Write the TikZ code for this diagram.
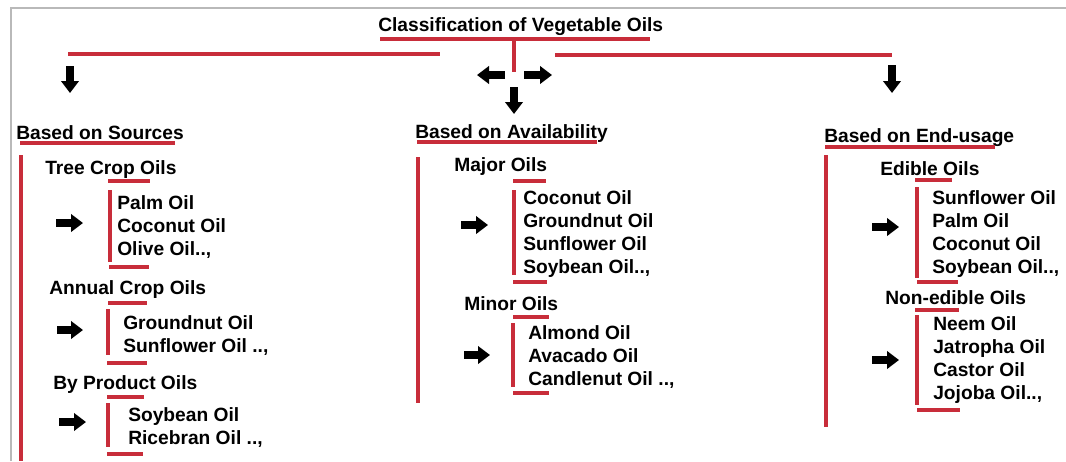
\documentclass[tikz,border=0pt]{standalone}
\usepackage{fontspec}
\setmainfont{Liberation Sans}
\usetikzlibrary{arrows.meta}
\definecolor{oilred}{RGB}{200,45,58}
\definecolor{framegray}{RGB}{185,185,185}
\tikzset{
  txt/.style={anchor=north west, inner sep=0pt, align=left,
    font=\fontsize{14.4}{17.25}\selectfont\bfseries},
  redline/.style={draw=oilred, line width=2.6pt},
  blockarrow/.style={line width=6pt, -{Triangle[length=9pt,width=13pt]}},
}
\begin{document}
\begin{tikzpicture}[x=0.75pt,y=-0.75pt]
\useasboundingbox (0,0) rectangle (1066,461);
% frame
\draw[framegray, line width=1.2pt] (11,461) -- (11,8) -- (1066,8);

% title and main branches
\node[txt] (title) at (378,17) {Classification of Vegetable Oils};
\draw[redline] (380,39) -- (650,39);
\draw[redline] (514,39) -- (514,72);
\draw[redline] (68,54) -- (440,54);
\draw[redline] (555,55) -- (892,55);

\coordinate (L1) at (70,66);   \coordinate (L2) at (70,93);
\coordinate (M0) at (505,75);  \coordinate (M1) at (477,75);
\coordinate (M2) at (524,75);  \coordinate (M3) at (552,75);
\coordinate (M4) at (514,87);  \coordinate (M5) at (514,114);
\coordinate (R1) at (892,65);  \coordinate (R2) at (892,93);
\draw[blockarrow] (L1) -- (L2);
\draw[blockarrow] (M0) -- (M1);
\draw[blockarrow] (M2) -- (M3);
\draw[blockarrow] (M4) -- (M5);
\draw[blockarrow] (R1) -- (R2);

% based on sources
\node[txt] (src) at (16,125) {Based on Sources};
\draw[redline] (20,143) -- (175,143);
\draw[redline] (21,155) -- (21,461);

\node[txt] (tree) at (45,160) {Tree Crop Oils};
\draw[redline] (108,181) -- (150,181);
\draw[redline] (110,190) -- (110,262);
\draw[redline] (109,267) -- (149,267);
\node[txt] (treelist) at (117,195) {Palm Oil\\Coconut Oil\\Olive Oil..,};
\coordinate (t1) at (56,223); \coordinate (t2) at (83,223);
\draw[blockarrow] (t1) -- (t2);

\node[txt] (annual) at (49,280) {Annual Crop Oils};
\draw[redline] (108,303) -- (147,303);
\draw[redline] (108,309) -- (108,355);
\draw[redline] (107,363) -- (147,363);
\node[txt] (annuallist) at (123,315) {Groundnut Oil\\Sunflower Oil ..,};
\coordinate (a1) at (57,330); \coordinate (a2) at (83,330);
\draw[blockarrow] (a1) -- (a2);

\node[txt] (byprod) at (53,375) {By Product Oils};
\draw[redline] (107,397) -- (144,397);
\draw[redline] (108,403) -- (108,447);
\draw[redline] (107,454) -- (143,454);
\node[txt] (byprodlist) at (128,407) {Soybean Oil\\Ricebran Oil ..,};
\coordinate (b1) at (59,422); \coordinate (b2) at (86,422);
\draw[blockarrow] (b1) -- (b2);

% based on availability
\node[txt] (avail) at (415,124) {Based on Availability};
\draw[redline] (417,142) -- (597,142);
\draw[redline] (418,157) -- (418,403);

\node[txt] (major) at (454,157) {Major Oils};
\draw[redline] (513,181) -- (546,181);
\draw[redline] (514,190) -- (514,275);
\draw[redline] (513,282) -- (547,282);
\node[txt] (majorlist) at (523,190) {Coconut Oil\\Groundnut Oil\\Sunflower Oil\\Soybean Oil..,};
\coordinate (j1) at (461,225); \coordinate (j2) at (488,225);
\draw[blockarrow] (j1) -- (j2);

\node[txt] (minor) at (464,296) {Minor Oils};
\draw[redline] (513,317) -- (549,317);
\draw[redline] (513,323) -- (513,387);
\draw[redline] (513,393) -- (549,393);
\node[txt] (minorlist) at (528,325) {Almond Oil\\Avacado Oil\\Candlenut Oil ..,};
\coordinate (n1) at (464,355); \coordinate (n2) at (490,355);
\draw[blockarrow] (n1) -- (n2);

% based on end-usage
\node[txt] (usage) at (824,128) {Based on End-usage};
\draw[redline] (825,147) -- (995,147);
\draw[redline] (826,155) -- (826,427);

\node[txt] (edible) at (880,161) {Edible Oils};
\draw[redline] (915,180) -- (952,180);
\draw[redline] (917,187) -- (917,278);
\draw[redline] (917,282) -- (958,282);
\node[txt] (ediblelist) at (932,190) {Sunflower Oil\\Palm Oil\\Coconut Oil\\Soybean Oil..,};
\coordinate (e1) at (872,227); \coordinate (e2) at (899,227);
\draw[blockarrow] (e1) -- (e2);

\node[txt] (nonedible) at (885,290) {Non-edible Oils};
\draw[redline] (915,310) -- (959,310);
\draw[redline] (917,315) -- (917,405);
\draw[redline] (917,410) -- (960,410);
\node[txt] (nonediblelist) at (933,316) {Neem Oil\\Jatropha Oil\\Castor Oil\\Jojoba Oil..,};
\coordinate (d1) at (872,360); \coordinate (d2) at (899,360);
\draw[blockarrow] (d1) -- (d2);
\end{tikzpicture}
\end{document}
